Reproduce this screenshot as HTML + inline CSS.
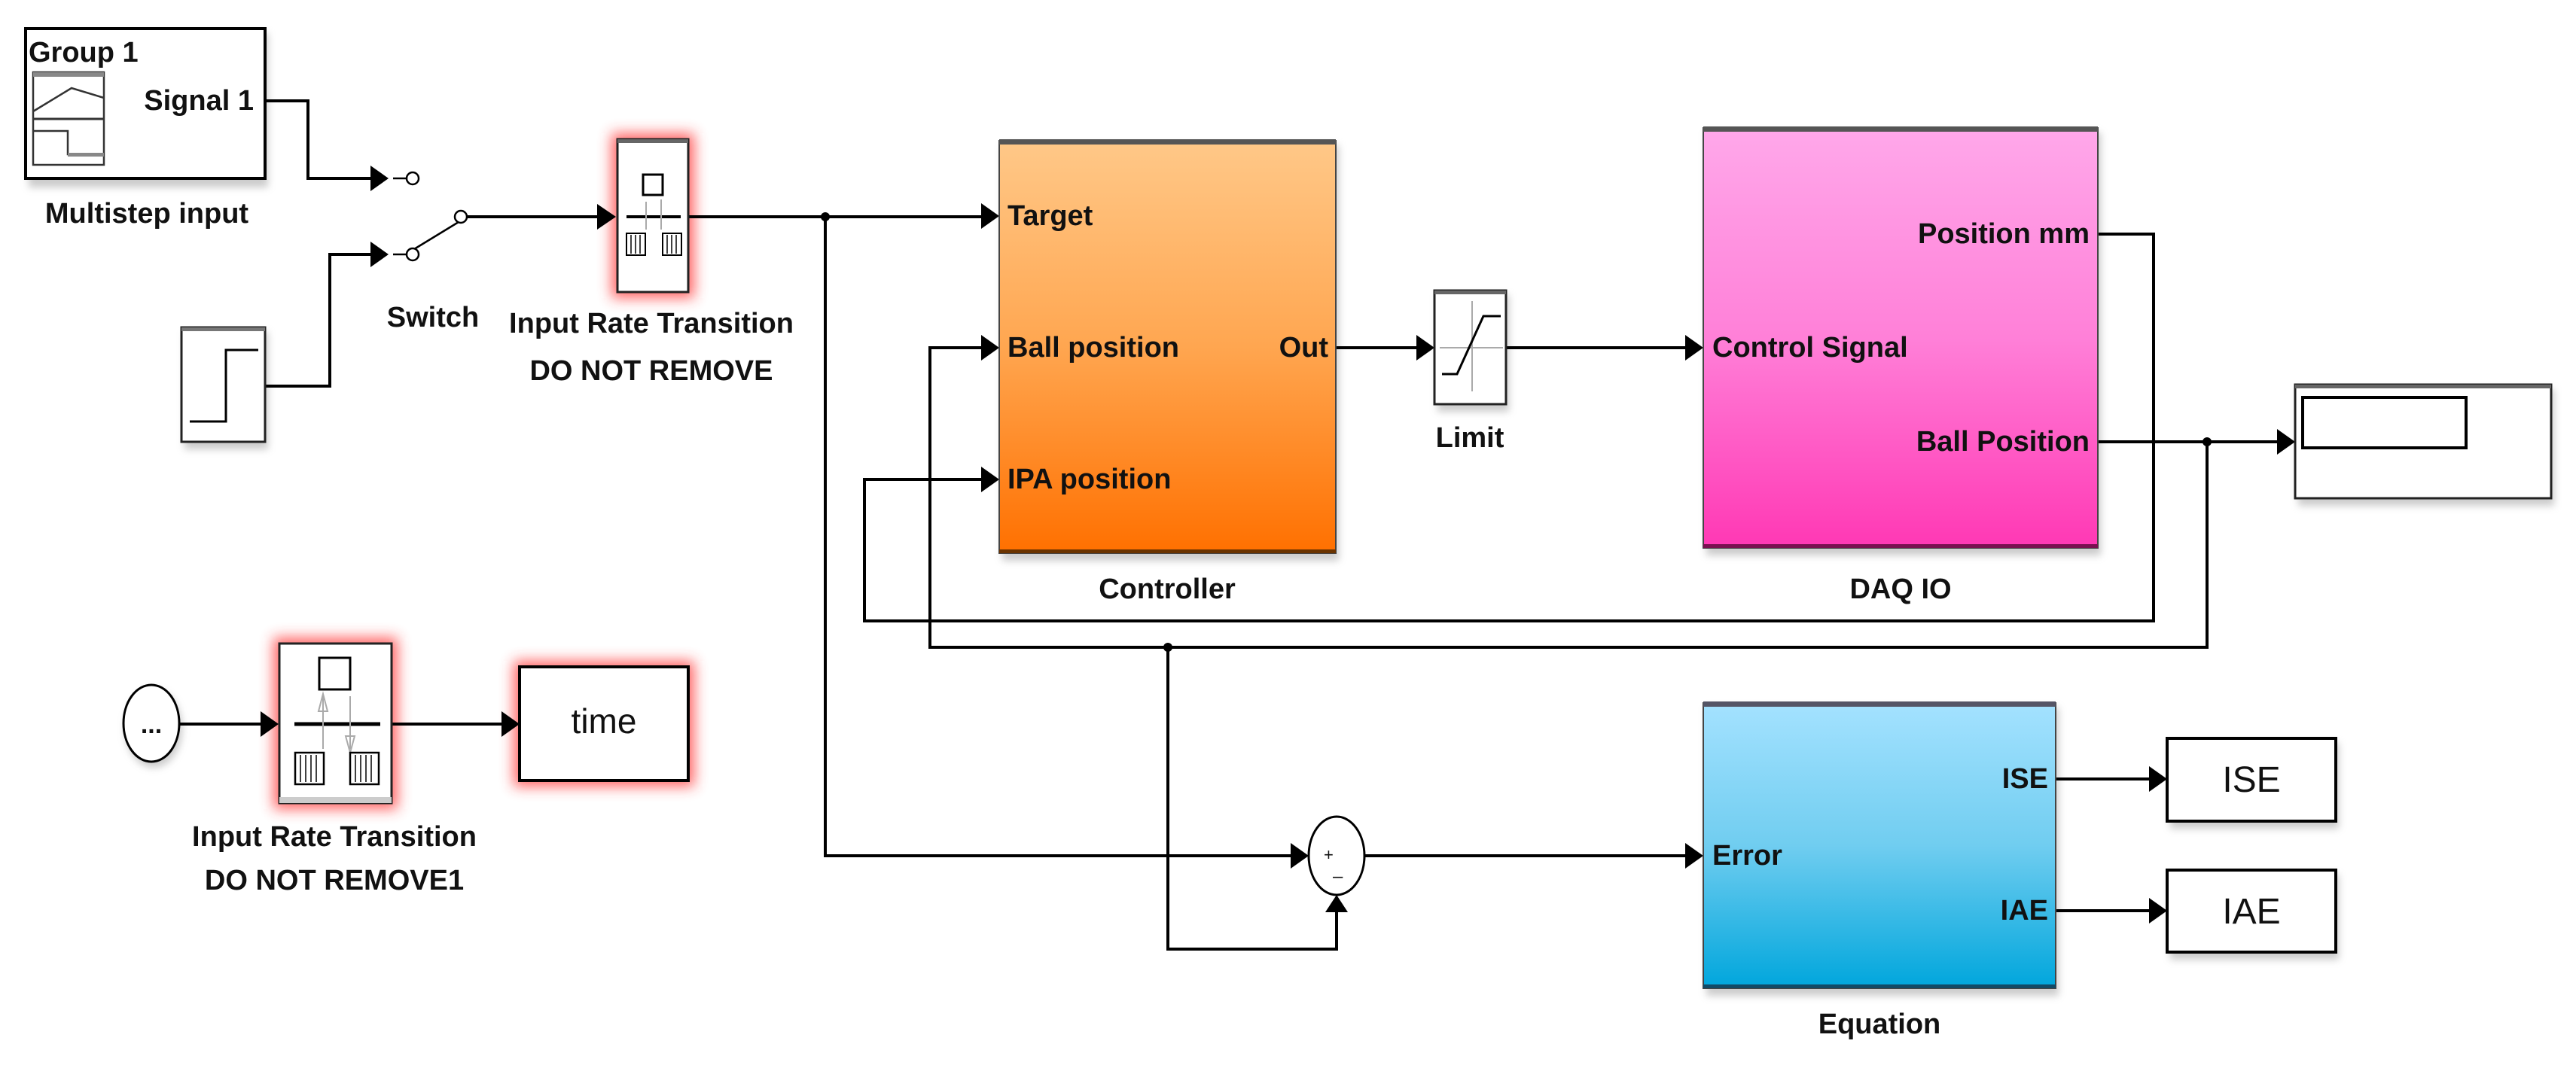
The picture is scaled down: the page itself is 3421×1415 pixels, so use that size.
<!DOCTYPE html>
<html><head><meta charset="utf-8"><style>
html,body{margin:0;padding:0;background:#fff;}
svg{display:block;}
text{font-family:"Liberation Sans Narrow","Liberation Sans",sans-serif;font-weight:bold;fill:#111;}
.n{font-weight:normal;}
</style></head><body>
<svg width="3421" height="1415" viewBox="0 0 3421 1415" xmlns="http://www.w3.org/2000/svg">
<defs>
<filter id="glow" x="-50%" y="-50%" width="200%" height="200%"><feGaussianBlur stdDeviation="9"/></filter>
<filter id="sh" x="-20%" y="-20%" width="140%" height="140%"><feGaussianBlur stdDeviation="5"/></filter>
<linearGradient id="gc" x1="0" y1="0" x2="0" y2="1"><stop offset="0" stop-color="#ffc888"/><stop offset="0.5" stop-color="#ffa650"/><stop offset="1" stop-color="#ff7000"/></linearGradient>
<linearGradient id="gd" x1="0" y1="0" x2="0" y2="1"><stop offset="0" stop-color="#ffa8ea"/><stop offset="0.5" stop-color="#ff80d8"/><stop offset="1" stop-color="#ff38b4"/></linearGradient>
<linearGradient id="ge" x1="0" y1="0" x2="0" y2="1"><stop offset="0" stop-color="#a4e2ff"/><stop offset="0.5" stop-color="#70cdf0"/><stop offset="1" stop-color="#00a6dc"/></linearGradient>
</defs>

<!-- shadows -->
<g fill="#999" opacity="0.5" filter="url(#sh)">
<rect x="38" y="44" width="318" height="205"/>
<rect x="245" y="441" width="111" height="156"/>
<rect x="1331" y="193" width="447" height="552"/>
<rect x="2266" y="176" width="524" height="562"/>
<rect x="1909" y="392" width="95" height="155"/>
<rect x="3052" y="517" width="340" height="155"/>
<rect x="2266" y="940" width="468" height="383"/>
<rect x="2882" y="987" width="224" height="114"/>
<rect x="2882" y="1162" width="224" height="113"/>
<ellipse cx="204" cy="968" rx="38" ry="52"/>
</g>
<!-- red glows -->
<g fill="#ff3030" opacity="0.75" filter="url(#glow)">
<rect x="812" y="177" width="110" height="219"/>
<rect x="363" y="847" width="165" height="228"/>
<rect x="682" y="878" width="240" height="167"/>
</g>

<!-- wires -->
<g stroke="#000" stroke-width="4" fill="none">
<polyline points="352,134 409,134 409,237 505,237"/>
<polyline points="352,513 438,513 438,338 505,338"/>
<line x1="620" y1="288" x2="812" y2="288"/>
<line x1="914" y1="288" x2="1320" y2="288"/>
<polyline points="1096,288 1096,1137 1730,1137"/>
<line x1="1812" y1="1137" x2="2255" y2="1137"/>
<line x1="1774" y1="462" x2="1898" y2="462"/>
<line x1="2000" y1="462" x2="2255" y2="462"/>
<polyline points="2786,311 2860,311 2860,825 1148,825 1148,637 1320,637"/>
<polyline points="2786,587 3040,587"/>
<polyline points="2931,587 2931,860 1235,860 1235,462 1320,462"/>
<polyline points="1551,860 1551,1261 1775,1261 1775,1197"/>
<line x1="239" y1="962" x2="363" y2="962"/>
<line x1="520" y1="962" x2="682" y2="962"/>
<line x1="2730" y1="1035" x2="2870" y2="1035"/>
<line x1="2730" y1="1210" x2="2870" y2="1210"/>
</g>
<!-- switch -->
<g stroke="#000" stroke-width="2.5" fill="#fff">
<line x1="522" y1="237" x2="540" y2="237"/>
<line x1="522" y1="338" x2="540" y2="338"/>
<line x1="550" y1="331" x2="609" y2="295"/>
<circle cx="548" cy="237" r="8"/>
<circle cx="548" cy="338" r="8"/>
<circle cx="612" cy="288" r="8"/>
</g>
<!-- arrowheads -->
<g fill="#000">
<polygon points="492,220 516,237 492,254"/>
<polygon points="492,321 516,338 492,355"/>
<polygon points="793,271 818,288 793,305"/>
<polygon points="1303,270 1327,287 1303,304"/>
<polygon points="1303,445 1327,462 1303,479"/>
<polygon points="1303,620 1327,637 1303,654"/>
<polygon points="1881,445 1905,462 1881,479"/>
<polygon points="2238,445 2262,462 2238,479"/>
<polygon points="3024,570 3048,587 3024,604"/>
<polygon points="1714,1120 1738,1137 1714,1154"/>
<polygon points="2238,1120 2262,1137 2238,1154"/>
<polygon points="1760,1212 1775,1189 1790,1212"/>
<polygon points="346,945 370,962 346,979"/>
<polygon points="666,945 690,962 666,979"/>
<polygon points="2854,1018 2878,1035 2854,1052"/>
<polygon points="2854,1193 2878,1210 2854,1227"/>
<circle cx="1096" cy="288" r="6"/>
<circle cx="2931" cy="587" r="6"/>
<circle cx="1551" cy="860" r="6"/>
</g>

<!-- Group 1 block -->
<rect x="34" y="38" width="318" height="199" fill="#fff" stroke="#000" stroke-width="4"/>
<text x="38" y="82" font-size="38">Group 1</text>
<rect x="44" y="96" width="94" height="123" fill="#fff" stroke="#333" stroke-width="2.5"/>
<rect x="44" y="96" width="94" height="6" fill="#888"/>
<line x1="44" y1="158" x2="138" y2="158" stroke="#333" stroke-width="3"/>
<polyline points="44,148 95,117 138,130" fill="none" stroke="#333" stroke-width="2.5"/>
<polyline points="44,174 90,174 90,205 138,205" fill="none" stroke="#333" stroke-width="2.5"/>
<rect x="90" y="203" width="48" height="5" fill="#888"/>
<text x="337" y="146" font-size="38" text-anchor="end">Signal 1</text>
<text x="195" y="296" font-size="38" text-anchor="middle">Multistep input</text>

<!-- Step -->
<rect x="241" y="435" width="111" height="152" fill="#fff" stroke="#222" stroke-width="3"/>
<rect x="241" y="435" width="111" height="5" fill="#777"/>
<polyline points="252,560 300,560 300,465 343,465" fill="none" stroke="#000" stroke-width="3"/>
<text x="575" y="434" font-size="38" text-anchor="middle">Switch</text>

<!-- Rate transition 1 -->
<rect x="820" y="185" width="94" height="203" fill="#fff" stroke="#222" stroke-width="3"/>
<rect x="820" y="185" width="94" height="5" fill="#666"/>
<rect x="854" y="232" width="26" height="27" fill="#fff" stroke="#000" stroke-width="3"/>
<line x1="832" y1="288" x2="904" y2="288" stroke="#000" stroke-width="4"/>
<line x1="858" y1="268" x2="858" y2="305" stroke="#aaa" stroke-width="2"/>
<line x1="878" y1="265" x2="878" y2="305" stroke="#aaa" stroke-width="2"/>
<g fill="#fff" stroke="#000" stroke-width="2"><rect x="832" y="310" width="25" height="29"/><rect x="880" y="310" width="25" height="29"/></g>
<g stroke="#000" stroke-width="1.5"><line x1="838" y1="312" x2="838" y2="337"/><line x1="844" y1="312" x2="844" y2="337"/><line x1="850" y1="312" x2="850" y2="337"/><line x1="886" y1="312" x2="886" y2="337"/><line x1="892" y1="312" x2="892" y2="337"/><line x1="898" y1="312" x2="898" y2="337"/></g>
<text x="865" y="442" font-size="38" text-anchor="middle">Input Rate Transition</text>
<text x="865" y="505" font-size="38" text-anchor="middle">DO NOT REMOVE</text>

<!-- Controller -->
<rect x="1327" y="187" width="447" height="548" fill="url(#gc)" stroke="#444" stroke-width="2"/>
<rect x="1327" y="185" width="447" height="7" fill="#555"/>
<rect x="1327" y="730" width="447" height="5" fill="#6a3300"/>
<text x="1338" y="299" font-size="38">Target</text>
<text x="1338" y="474" font-size="38">Ball position</text>
<text x="1338" y="649" font-size="38">IPA position</text>
<text x="1764" y="474" font-size="38" text-anchor="end">Out</text>
<text x="1550" y="795" font-size="38" text-anchor="middle">Controller</text>

<!-- Limit -->
<rect x="1905" y="386" width="95" height="151" fill="#fff" stroke="#222" stroke-width="3"/>
<rect x="1905" y="386" width="95" height="5" fill="#666"/>
<line x1="1955" y1="400" x2="1955" y2="520" stroke="#aaa" stroke-width="2"/>
<line x1="1912" y1="462" x2="1996" y2="462" stroke="#aaa" stroke-width="2"/>
<polyline points="1915,497 1935,497 1970,420 1993,420" fill="none" stroke="#000" stroke-width="3"/>
<text x="1952" y="594" font-size="38" text-anchor="middle">Limit</text>

<!-- DAQ IO -->
<rect x="2262" y="170" width="524" height="558" fill="url(#gd)" stroke="#444" stroke-width="2"/>
<rect x="2262" y="168" width="524" height="7" fill="#555"/>
<rect x="2262" y="723" width="524" height="5" fill="#7a1050"/>
<text x="2274" y="474" font-size="38">Control Signal</text>
<text x="2775" y="323" font-size="38" text-anchor="end">Position mm</text>
<text x="2775" y="599" font-size="38" text-anchor="end">Ball Position</text>
<text x="2524" y="795" font-size="38" text-anchor="middle">DAQ IO</text>

<!-- Scope -->
<rect x="3048" y="511" width="340" height="151" fill="#fff" stroke="#222" stroke-width="3"/>
<rect x="3048" y="511" width="340" height="5" fill="#666"/>
<rect x="3058" y="528" width="217" height="67" fill="#fff" stroke="#000" stroke-width="4"/>

<!-- Clock ellipse -->
<ellipse cx="201" cy="961" rx="37" ry="51" fill="#fff" stroke="#000" stroke-width="3"/>
<text x="201" y="974" font-size="34" text-anchor="middle">...</text>

<!-- Rate transition 2 -->
<rect x="371" y="855" width="149" height="212" fill="#fff" stroke="#222" stroke-width="3"/>
<rect x="371" y="1059" width="149" height="8" fill="#ccc"/>
<rect x="424" y="874" width="41" height="42" fill="#fff" stroke="#000" stroke-width="3"/>
<line x1="391" y1="962" x2="505" y2="962" stroke="#000" stroke-width="5"/>
<line x1="429" y1="925" x2="429" y2="995" stroke="#aaa" stroke-width="2"/>
<line x1="465" y1="925" x2="465" y2="995" stroke="#aaa" stroke-width="2"/>
<polygon points="423,945 429,922 435,945" fill="none" stroke="#aaa" stroke-width="2"/>
<polygon points="459,978 465,1000 471,978" fill="none" stroke="#aaa" stroke-width="2"/>
<g fill="#fff" stroke="#000" stroke-width="2.5"><rect x="392" y="1000" width="38" height="42"/><rect x="465" y="1000" width="38" height="42"/></g>
<g stroke="#000" stroke-width="1.5"><line x1="399" y1="1003" x2="399" y2="1039"/><line x1="406" y1="1003" x2="406" y2="1039"/><line x1="413" y1="1003" x2="413" y2="1039"/><line x1="420" y1="1003" x2="420" y2="1039"/><line x1="472" y1="1003" x2="472" y2="1039"/><line x1="479" y1="1003" x2="479" y2="1039"/><line x1="486" y1="1003" x2="486" y2="1039"/><line x1="493" y1="1003" x2="493" y2="1039"/></g>
<text x="444" y="1124" font-size="38" text-anchor="middle">Input Rate Transition</text>
<text x="444" y="1182" font-size="38" text-anchor="middle">DO NOT REMOVE1</text>

<!-- time -->
<rect x="690" y="886" width="224" height="151" fill="#fff" stroke="#000" stroke-width="4"/>
<text x="802" y="974" font-size="46" class="n" text-anchor="middle">time</text>

<!-- Sum -->
<ellipse cx="1775" cy="1137" rx="37" ry="52" fill="#fff" stroke="#000" stroke-width="3"/>
<text x="1758" y="1143" font-size="22" class="n">+</text>
<text x="1770" y="1172" font-size="24" class="n">–</text>

<!-- Equation -->
<rect x="2262" y="934" width="468" height="379" fill="url(#ge)" stroke="#444" stroke-width="2"/>
<rect x="2262" y="932" width="468" height="7" fill="#556"/>
<rect x="2262" y="1308" width="468" height="5" fill="#124a66"/>
<text x="2274" y="1149" font-size="38">Error</text>
<text x="2720" y="1047" font-size="38" text-anchor="end">ISE</text>
<text x="2720" y="1222" font-size="38" text-anchor="end">IAE</text>
<text x="2496" y="1373" font-size="38" text-anchor="middle">Equation</text>

<!-- ISE/IAE -->
<rect x="2878" y="981" width="224" height="110" fill="#fff" stroke="#000" stroke-width="4"/>
<text x="2990" y="1052" font-size="48" class="n" text-anchor="middle">ISE</text>
<rect x="2878" y="1156" width="224" height="109" fill="#fff" stroke="#000" stroke-width="4"/>
<text x="2990" y="1227" font-size="48" class="n" text-anchor="middle">IAE</text>
</svg>
</body></html>
